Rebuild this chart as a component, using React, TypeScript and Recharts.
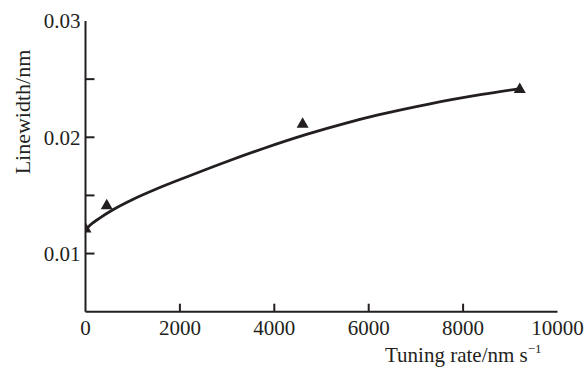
import React from "react";
import { ComposedChart, Line, Scatter, XAxis, YAxis } from "recharts";

const measuredRate = [0, 450, 4600, 9200];
const measuredWidth = [0.0122, 0.0142, 0.0212, 0.0242];

const fitRate = [0, 100, 300, 600, 1000, 1500, 2100, 2900, 3800, 4700, 5500, 6200, 7300, 8400, 9200];
const fitWidth = [0.012, 0.01245, 0.01305, 0.01381, 0.01465, 0.01555, 0.01652, 0.01777, 0.01908, 0.02027, 0.0212, 0.02192, 0.02288, 0.02368, 0.02418];

const xTicks = [0, 2000, 4000, 6000, 8000, 10000];
const yTicks = [0.01, 0.015, 0.02, 0.025, 0.03];
const yLabelled = ["0.01", "0.02", "0.03"];

const points = measuredRate.map((x, i) => ({ x, y: measuredWidth[i] }));
const fit = fitRate.map((x, i) => ({ x, y: fitWidth[i] }));

const INK = "#231f20";
const FONT = "'Liberation Serif', 'Times New Roman', serif";

const XTick = (props: any) => {
  const { x, y, payload } = props;
  return (
    <g>
      {payload.value !== 0 && payload.value !== 10000 && (
        <line x1={x} x2={x} y1={y} y2={y - 8} stroke={INK} strokeWidth={2} />
      )}
      <text x={x} y={y + 23.5} textAnchor="middle" fontSize={21} fontFamily={FONT} fill={INK}>
        {String(payload.value)}
      </text>
    </g>
  );
};

const YTick = (props: any) => {
  const { x, y, payload } = props;
  const lab = payload.value.toFixed(2);
  const show = Math.abs(payload.value * 100 - Math.round(payload.value * 100)) < 1e-6;
  return (
    <g>
      {payload.value < 0.0299 && (
        <line x1={x} x2={x + 9} y1={y} y2={y} stroke={INK} strokeWidth={2} />
      )}
      {show && yLabelled.includes(lab) && (
        <text x={x - 5} y={y} dy="0.35em" textAnchor="end" fontSize={21} fontFamily={FONT} fill={INK}>
          {lab}
        </text>
      )}
    </g>
  );
};

const Tri = (props: any) => {
  const { cx, cy } = props;
  if (cx == null || cy == null) return null;
  return (
    <polygon
      points={`${cx - 6},${cy + 4.5} ${cx + 6},${cy + 4.5} ${cx},${cy - 6}`}
      fill={INK}
    />
  );
};

const XTitle = () => (
  <text x={385} y={361.5} fontSize={21} fontFamily={FONT} fill={INK}>
    Tuning rate/nm s
    <tspan fontSize={13} dy={-9}>−1</tspan>
  </text>
);

const YTitle = () => (
  <text
    x={30}
    y={112}
    transform="rotate(-90, 30, 112)"
    textAnchor="middle"
    fontSize={22}
    fontFamily={FONT}
    fill={INK}
  >
    Linewidth/nm
  </text>
);

export default function App() {
  return (
    <div style={{ position: "absolute", left: 0, top: 0, background: "#fff" }}>
      <ComposedChart
        width={585}
        height={369}
        margin={{ top: 21, right: 27.5, bottom: 0, left: 0 }}
      >
        <XAxis
          xAxisId="b"
          type="number"
          dataKey="x"
          domain={[0, 10000]}
          ticks={xTicks}
          tickSize={0}
          tickMargin={0}
          tickLine={false}
          tick={<XTick />}
          height={57.3}
          stroke={INK}
          strokeWidth={2}
          interval={0}
          allowDataOverflow
        />
        <XAxis
          xAxisId="t"
          orientation="top"
          type="number"
          domain={[0, 10000]}
          tick={false}
          tickLine={false}
          height={0}
          stroke={INK}
          strokeWidth={1.5}
        />
        <YAxis
          yAxisId="l"
          type="number"
          domain={[0.005, 0.03]}
          ticks={yTicks}
          tickSize={0}
          tickMargin={0}
          tickLine={false}
          tick={<YTick />}
          width={85.5}
          stroke={INK}
          strokeWidth={2}
          interval={0}
          allowDataOverflow
        />
        <YAxis
          yAxisId="r"
          orientation="right"
          type="number"
          domain={[0.005, 0.03]}
          tick={false}
          tickLine={false}
          width={0}
          stroke={INK}
          strokeWidth={1.5}
        />
        <Line
          xAxisId="b"
          yAxisId="l"
          data={fit}
          dataKey="y"
          type="monotone"
          stroke={INK}
          strokeWidth={2.8}
          dot={false}
          activeDot={false}
          isAnimationActive={false}
        />
        <Scatter
          xAxisId="b"
          yAxisId="l"
          data={points}
          dataKey="y"
          shape={<Tri />}
          isAnimationActive={false}
        />
        <XTitle />
        <YTitle />
      </ComposedChart>
    </div>
  );
}
